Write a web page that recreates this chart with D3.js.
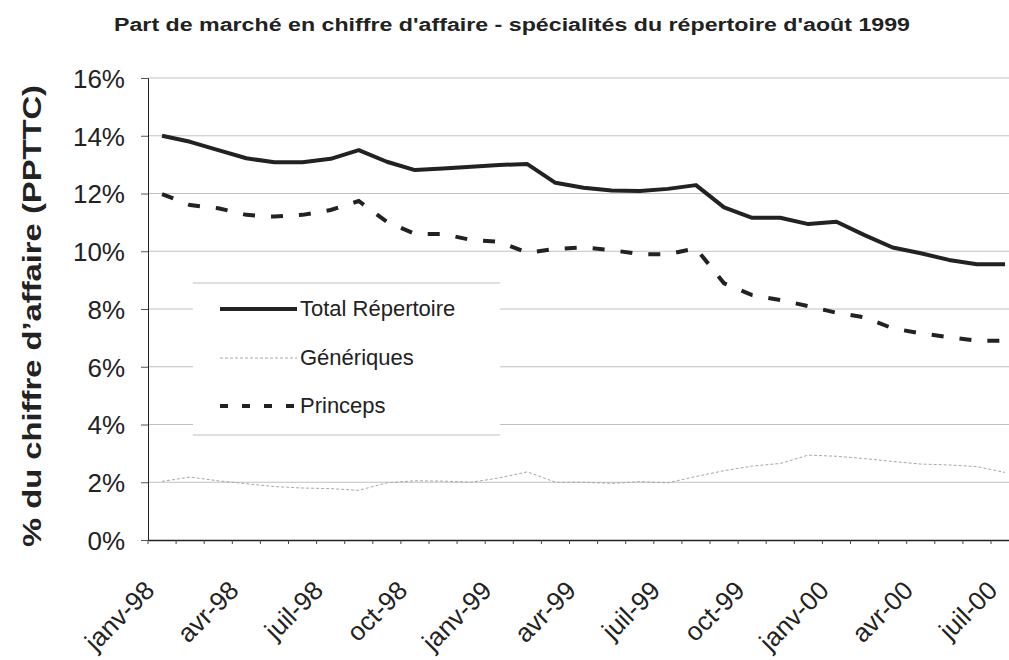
<!DOCTYPE html>
<html><head><meta charset="utf-8">
<script src="https://cdn.jsdelivr.net/npm/d3@7"></script>
<style>body{margin:0;background:#fff}svg{display:block}</style>
</head><body>
<svg id="c" width="1009" height="660"></svg>
<script>
const months = ["janv-98","févr-98","mars-98","avr-98","mai-98","juin-98","juil-98","août-98","sept-98","oct-98","nov-98","déc-98",
"janv-99","févr-99","mars-99","avr-99","mai-99","juin-99","juil-99","août-99","sept-99","oct-99","nov-99","déc-99",
"janv-00","févr-00","mars-00","avr-00","mai-00","juin-00","juil-00"];
const tickLabels = ["janv-98","avr-98","juil-98","oct-98","janv-99","avr-99","juil-99","oct-99","janv-00","avr-00","juil-00"];
const totalRepertoire = [14.0,13.79,13.5,13.22,13.08,13.08,13.2,13.5,13.1,12.81,12.87,12.93,12.99,13.02,12.37,12.2,12.1,12.09,12.16,12.29,11.52,11.16,11.16,10.94,11.02,10.56,10.13,9.93,9.7,9.55,9.55];
const generiques = [2.03,2.18,2.05,1.95,1.85,1.8,1.78,1.72,1.98,2.05,2.04,2.0,2.15,2.36,2.0,2.0,1.96,2.02,1.98,2.2,2.4,2.56,2.65,2.94,2.9,2.82,2.72,2.63,2.6,2.54,2.34];
const princeps = [11.98,11.6,11.49,11.26,11.2,11.26,11.43,11.74,11.02,10.6,10.6,10.39,10.33,9.95,10.08,10.13,10.04,9.9,9.9,10.1,8.89,8.48,8.31,8.1,7.87,7.71,7.33,7.16,7.02,6.9,6.9];
const yTicks = [0,2,4,6,8,10,12,14,16];
const seriesNames = ["Total Répertoire","Génériques","Princeps"];

const svg = d3.select("#c");
const font = "'Liberation Sans', Arial, sans-serif";
const x = d3.scaleBand().domain(months).range([148, 148 + 31*28.1]).padding(0);
const y = d3.scaleLinear().domain([0,16]).range([540, 78]);
const cx = m => x(m) + x.bandwidth()/2;

// gridlines
svg.append("g").selectAll("line").data(yTicks.filter(d=>d>0)).join("line")
  .attr("x1",148).attr("x2",1019).attr("y1",d=>y(d)).attr("y2",d=>y(d))
  .attr("stroke","#c4bfc4").attr("stroke-width",1);

// lines
const line = d3.line().x((d,i)=>cx(months[i])).y(d=>y(d));
svg.append("path").datum(generiques).attr("d",line).attr("fill","none")
  .attr("stroke","#a8a8a8").attr("stroke-width",1).attr("stroke-dasharray","3,2");
svg.append("path").datum(princeps).attr("d",line).attr("fill","none")
  .attr("stroke","#222").attr("stroke-width",4).attr("stroke-dasharray","12,16");
svg.append("path").datum(totalRepertoire).attr("d",line).attr("fill","none")
  .attr("stroke","#222").attr("stroke-width",4).attr("stroke-linejoin","round");

// y axis
const yAxis = svg.append("g").attr("transform","translate(148,0)")
  .call(d3.axisLeft(y).tickValues(yTicks).tickSize(7).tickFormat(d=>d+"%").tickPadding(16));
yAxis.select(".domain").attr("stroke","#222");
yAxis.selectAll(".tick line").attr("stroke","#555");
yAxis.selectAll("text").attr("font-family",font).attr("font-size",26).attr("fill","#222").attr("dy","0.36em");

// x axis
const xAxis = svg.append("g").attr("transform","translate(0,540)")
  .call(d3.axisBottom(x).tickValues([]).tickSize(0));
xAxis.select(".domain").attr("stroke","#222").attr("stroke-width",1.5);
svg.append("g").selectAll("line").data(months).join("line")
  .attr("x1",d=>x(d)).attr("x2",d=>x(d)).attr("y1",540).attr("y2",544).attr("stroke","#444");
svg.append("g").selectAll("text").data(tickLabels).join("text")
  .attr("transform",d=>`translate(${cx(d)-6},592) rotate(-45)`)
  .attr("text-anchor","end").attr("font-family",font).attr("font-size",26).attr("fill","#222")
  .text(d=>d);

// legend
const lg = svg.append("g");
lg.append("rect").attr("x",193).attr("y",283).attr("width",307).attr("height",152).attr("fill","#fff");
lg.append("line").attr("x1",193).attr("x2",500).attr("y1",283).attr("y2",283).attr("stroke","#c4bfc4");
lg.append("line").attr("x1",193).attr("x2",500).attr("y1",435).attr("y2",435).attr("stroke","#c4bfc4");
const lgY = [309,358,406];
const styles = [
  {stroke:"#222",w:4,dash:null},
  {stroke:"#a8a8a8",w:1,dash:"3,2"},
  {stroke:"#222",w:4,dash:"8,14"}];
seriesNames.forEach((n,i)=>{
  lg.append("line").attr("x1",220).attr("x2",297).attr("y1",lgY[i]).attr("y2",lgY[i])
    .attr("stroke",styles[i].stroke).attr("stroke-width",styles[i].w).attr("stroke-dasharray",styles[i].dash);
  lg.append("text").attr("x",300).attr("y",lgY[i]+7).attr("font-family",font).attr("font-size",22)
    .attr("fill","#222").text(n);
});

// title
svg.append("text").attr("x",114).attr("y",31).attr("font-family",font).attr("font-weight","bold")
  .attr("font-size",18).attr("fill","#222").attr("textLength",796).attr("lengthAdjust","spacingAndGlyphs")
  .text("Part de marché en chiffre d'affaire - spécialités du répertoire d'août 1999");

// y label
svg.append("text").attr("transform","translate(41,316) rotate(-90)").attr("text-anchor","middle")
  .attr("font-family",font).attr("font-weight","bold").attr("font-size",26).attr("fill","#222")
  .attr("textLength",462).attr("lengthAdjust","spacingAndGlyphs")
  .text("% du chiffre d’affaire (PPTTC)");
</script>
</body></html>
